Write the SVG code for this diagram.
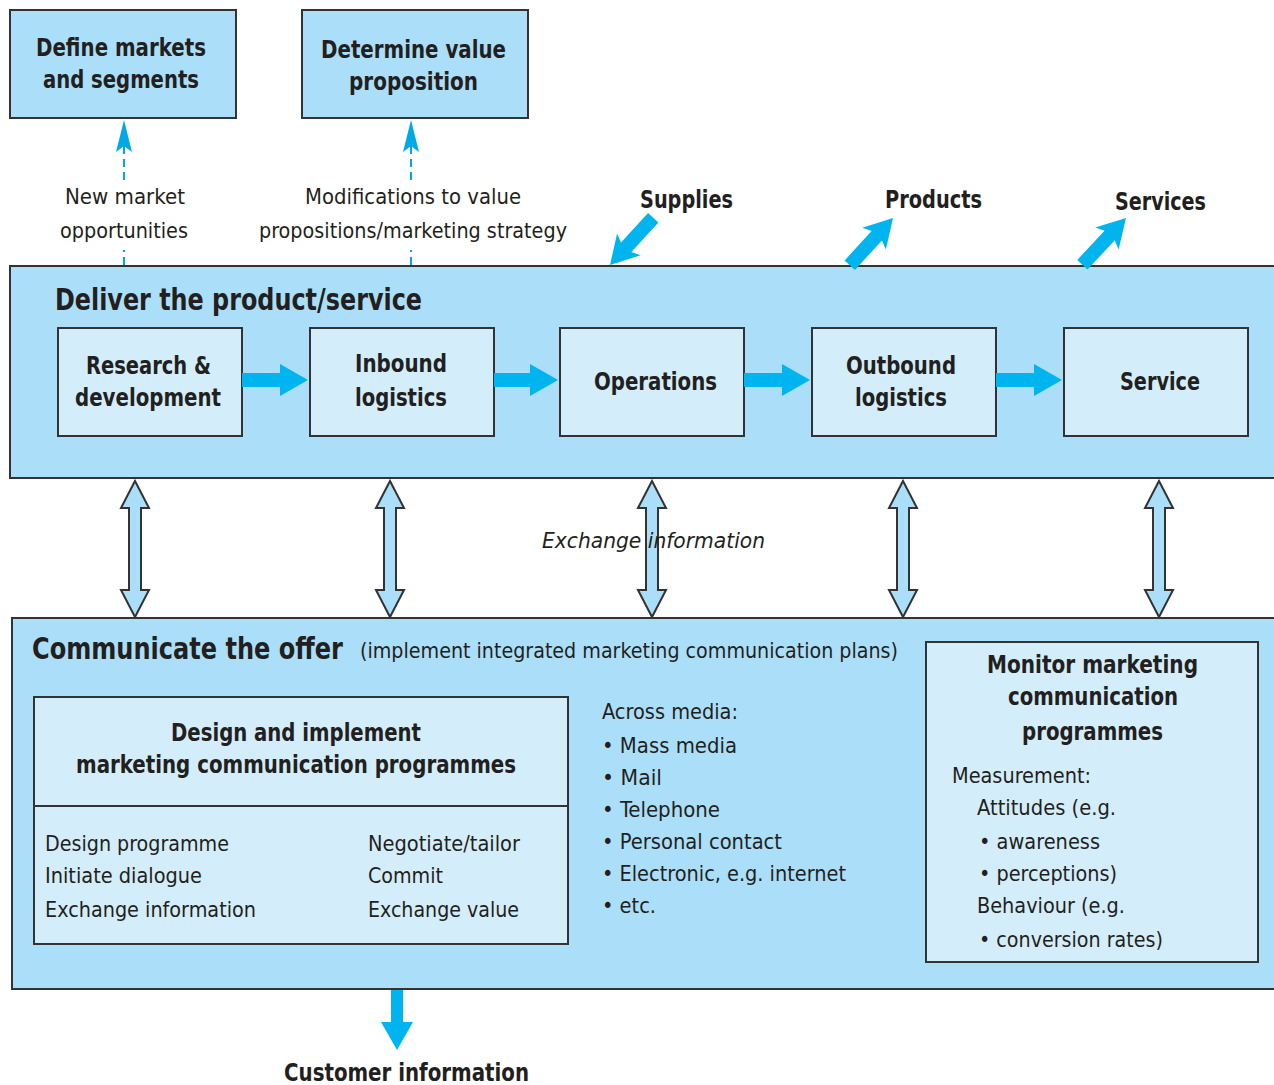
<svg xmlns="http://www.w3.org/2000/svg" width="1274" height="1085" viewBox="0 0 1274 1085">
<defs>
<style>
text{font-family:"DejaVu Sans Condensed","Liberation Sans",sans-serif;fill:#231f20}
.b{font-weight:bold}
.box{fill:#abdff9;stroke:#333;stroke-width:2}
.inner{fill:#d3eefa;stroke:#333;stroke-width:2}
.blue{fill:#00b5ef}
.dash{stroke:#00a9e6;stroke-width:2;stroke-dasharray:8,5;fill:none}
.dbl{fill:#abdff9;stroke:#333;stroke-width:2}
.t24{font-size:24px}
.t22{font-size:22px}
.t30{font-size:30px}
.m{text-anchor:middle}
</style>
</defs>
<rect width="1274" height="1085" fill="#fff"/>

<g id="define-markets">
<rect class="box" x="10" y="10" width="226" height="108"/>
<text class="b t24" x="36" y="56" textLength="170" lengthAdjust="spacingAndGlyphs">Define markets</text>
<text class="b t24" x="43" y="88" textLength="156" lengthAdjust="spacingAndGlyphs">and segments</text>
</g>
<g id="value-proposition">
<rect class="box" x="302" y="10" width="226" height="108"/>
<text class="b t24" x="321" y="58" textLength="185" lengthAdjust="spacingAndGlyphs">Determine value</text>
<text class="b t24" x="349" y="90" textLength="129" lengthAdjust="spacingAndGlyphs">proposition</text>
</g>

<g id="deliver">
<rect class="box" x="10" y="266" width="1270" height="212"/>
<text class="b t30" x="55" y="310" textLength="367" lengthAdjust="spacingAndGlyphs">Deliver the product/service</text>
</g>
<g id="rd"><rect class="inner" x="58" y="328" width="184" height="108"/>
<text class="b t24" x="86" y="374" textLength="125" lengthAdjust="spacingAndGlyphs">Research &amp;</text><text class="b t24" x="75" y="406" textLength="146" lengthAdjust="spacingAndGlyphs">development</text></g>
<g id="inbound"><rect class="inner" x="310" y="328" width="184" height="108"/>
<text class="b t24" x="355" y="372" textLength="92" lengthAdjust="spacingAndGlyphs">Inbound</text><text class="b t24" x="355" y="406" textLength="92" lengthAdjust="spacingAndGlyphs">logistics</text></g>
<g id="operations"><rect class="inner" x="560" y="328" width="184" height="108"/>
<text class="b t24" x="594" y="390" textLength="123" lengthAdjust="spacingAndGlyphs">Operations</text></g>
<g id="outbound"><rect class="inner" x="812" y="328" width="184" height="108"/>
<text class="b t24" x="846" y="374" textLength="110" lengthAdjust="spacingAndGlyphs">Outbound</text><text class="b t24" x="855" y="406" textLength="92" lengthAdjust="spacingAndGlyphs">logistics</text></g>
<g id="service"><rect class="inner" x="1064" y="328" width="184" height="108"/>
<text class="b t24" x="1120" y="390" textLength="80" lengthAdjust="spacingAndGlyphs">Service</text></g>

<g id="communicate">
<rect class="box" x="12" y="618" width="1270" height="371"/>
<text class="b t30" x="32" y="659" textLength="311" lengthAdjust="spacingAndGlyphs">Communicate the offer</text>
<text class="t22" x="360" y="658" textLength="538" lengthAdjust="spacingAndGlyphs">(implement integrated marketing communication plans)</text>
<text class="t22" x="602" y="719" textLength="136" lengthAdjust="spacingAndGlyphs">Across media:</text>
<text class="t22" x="602" y="753" textLength="135" lengthAdjust="spacingAndGlyphs">• Mass media</text>
<text class="t22" x="602" y="785" textLength="60" lengthAdjust="spacingAndGlyphs">• Mail</text>
<text class="t22" x="602" y="817" textLength="118" lengthAdjust="spacingAndGlyphs">• Telephone</text>
<text class="t22" x="602" y="849" textLength="180" lengthAdjust="spacingAndGlyphs">• Personal contact</text>
<text class="t22" x="602" y="881" textLength="244" lengthAdjust="spacingAndGlyphs">• Electronic, e.g. internet</text>
<text class="t22" x="602" y="913" textLength="54" lengthAdjust="spacingAndGlyphs">• etc.</text>
</g>
<g id="design">
<rect class="inner" x="34" y="697" width="534" height="247"/>
<line x1="34" y1="806" x2="568" y2="806" stroke="#333" stroke-width="2"/>
<text class="b t24" x="171" y="741" textLength="250" lengthAdjust="spacingAndGlyphs">Design and implement</text>
<text class="b t24" x="76" y="773" textLength="440" lengthAdjust="spacingAndGlyphs">marketing communication programmes</text>
<text class="t22" x="45" y="851" textLength="184" lengthAdjust="spacingAndGlyphs">Design programme</text>
<text class="t22" x="45" y="883" textLength="157" lengthAdjust="spacingAndGlyphs">Initiate dialogue</text>
<text class="t22" x="45" y="917" textLength="211" lengthAdjust="spacingAndGlyphs">Exchange information</text>
<text class="t22" x="368" y="851" textLength="152" lengthAdjust="spacingAndGlyphs">Negotiate/tailor</text>
<text class="t22" x="368" y="883" textLength="75" lengthAdjust="spacingAndGlyphs">Commit</text>
<text class="t22" x="368" y="917" textLength="151" lengthAdjust="spacingAndGlyphs">Exchange value</text>
</g>
<g id="monitor">
<rect class="inner" x="926" y="642" width="332" height="320"/>
<text class="b t24" x="987" y="673" textLength="211" lengthAdjust="spacingAndGlyphs">Monitor marketing</text>
<text class="b t24" x="1008" y="705" textLength="170" lengthAdjust="spacingAndGlyphs">communication</text>
<text class="b t24" x="1022" y="740" textLength="141" lengthAdjust="spacingAndGlyphs">programmes</text>
<text class="t22" x="952" y="783" textLength="139" lengthAdjust="spacingAndGlyphs">Measurement:</text>
<text class="t22" x="977" y="815" textLength="139" lengthAdjust="spacingAndGlyphs">Attitudes (e.g.</text>
<text class="t22" x="979" y="849" textLength="121" lengthAdjust="spacingAndGlyphs">• awareness</text>
<text class="t22" x="979" y="881" textLength="138" lengthAdjust="spacingAndGlyphs">• perceptions)</text>
<text class="t22" x="977" y="913" textLength="148" lengthAdjust="spacingAndGlyphs">Behaviour (e.g.</text>
<text class="t22" x="979" y="947" textLength="184" lengthAdjust="spacingAndGlyphs">• conversion rates)</text>
</g>

<g id="connectors">
<line class="dash" x1="124" y1="265" x2="124" y2="250"/>
<line class="dash" x1="124" y1="180" x2="124" y2="146"/>
<path d="M124,120 L132,152 L124,146 L116,152 Z" fill="#00a9e6"/>
<line class="dash" x1="411" y1="265" x2="411" y2="250"/>
<line class="dash" x1="411" y1="180" x2="411" y2="146"/>
<path d="M411,120 L419,152 L411,146 L403,152 Z" fill="#00a9e6"/>
<text class="t22" x="65" y="204" textLength="120" lengthAdjust="spacingAndGlyphs">New market</text>
<text class="t22" x="60" y="238" textLength="128" lengthAdjust="spacingAndGlyphs">opportunities</text>
<text class="t22" x="305" y="204" textLength="216" lengthAdjust="spacingAndGlyphs">Modifications to value</text>
<text class="t22" x="259" y="238" textLength="308" lengthAdjust="spacingAndGlyphs">propositions/marketing strategy</text>

<g class="blue">
<path d="M242,373 H280 V364 L308,380 L280,396 V387 H242 Z"/>
<path d="M494,373 H530 V364 L558,380 L530,396 V387 H494 Z"/>
<path d="M744,373 H782 V364 L810,380 L782,396 V387 H744 Z"/>
<path d="M996,373 H1034 V364 L1062,380 L1034,396 V387 H996 Z"/>
<path transform="translate(610,265) rotate(-47.5)" d="M0,0 L28,-16 L24,-7 L64,-7 L64,7 L24,7 L28,16 Z"/>
<path transform="translate(893,218) rotate(132.5)" d="M0,0 L28,-16 L24,-7 L64,-7 L64,7 L24,7 L28,16 Z"/>
<path transform="translate(1126,218) rotate(133)" d="M0,0 L28,-16 L24,-7 L64,-7 L64,7 L24,7 L28,16 Z"/>
<path d="M391,990 H403 V1022 H413 L397,1050 L381,1022 H391 Z"/>
</g>
<text class="b t24" x="640" y="208" textLength="93" lengthAdjust="spacingAndGlyphs">Supplies</text>
<text class="b t24" x="885" y="208" textLength="97" lengthAdjust="spacingAndGlyphs">Products</text>
<text class="b t24" x="1115" y="210" textLength="91" lengthAdjust="spacingAndGlyphs">Services</text>

<path class="dbl" d="M135,481 L149,508 H141 V590 H149 L135,617 L121,590 H129 V508 H121 Z"/>
<path class="dbl" d="M390,481 L404,508 H396 V590 H404 L390,617 L376,590 H384 V508 H376 Z"/>
<path class="dbl" d="M652,481 L666,508 H658 V590 H666 L652,617 L638,590 H646 V508 H638 Z"/>
<path class="dbl" d="M903,481 L917,508 H909 V590 H917 L903,617 L889,590 H897 V508 H889 Z"/>
<path class="dbl" d="M1159,481 L1173,508 H1165 V590 H1173 L1159,617 L1145,590 H1153 V508 H1145 Z"/>
<text class="t22" x="542" y="548" font-style="italic" textLength="223" lengthAdjust="spacingAndGlyphs">Exchange information</text>
<text class="b t24" x="284" y="1081" textLength="245" lengthAdjust="spacingAndGlyphs">Customer information</text>
</g>
</svg>
